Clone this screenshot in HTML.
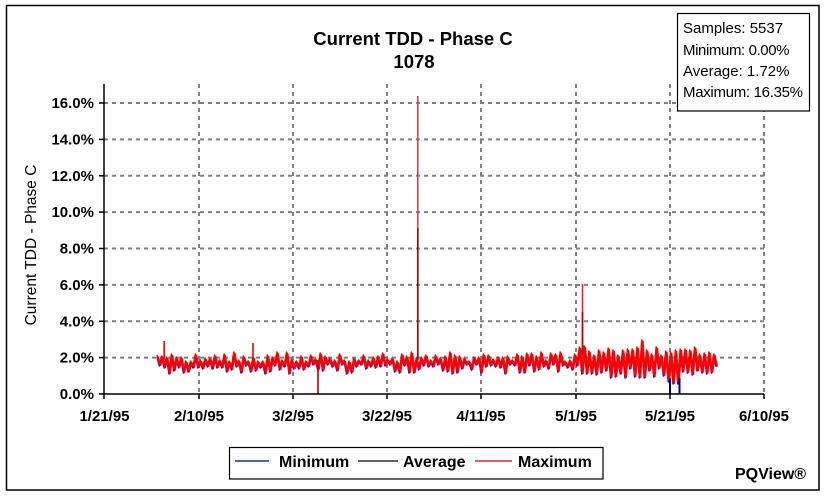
<!DOCTYPE html>
<html>
<head>
<meta charset="utf-8">
<style>
  html, body { margin: 0; padding: 0; background: #ffffff; }
  svg { display: block; }
  text { font-family: "Liberation Sans", Arial, sans-serif; fill: #000; }
</style>
</head>
<body>
<svg width="828" height="499" viewBox="0 0 828 499" xmlns="http://www.w3.org/2000/svg">
  <defs>
    <clipPath id="plotclip">
      <rect x="104" y="80" width="662" height="314"/>
    </clipPath>
    <polyline id="series" fill="none" vector-effect="non-scaling-stroke" stroke-linejoin="round" points="0,355 1,364 2,356 3,366 4,357 5,372 6,354 7,369 8,357 9,366 10,357 11,371 12,361 13,370 14,361 15,366 16,354 17,366 18,360 19,367 20,358 21,365 22,358 23,367 24,355 25,366 26,360 27,366 28,354 29,370 30,361 31,368 32,352 33,365 34,360 35,371 36,356 37,364 38,361 39,370 40,357 41,369 42,361 43,366 44,361 45,372 46,355 47,370 48,357 49,364 50,352 51,368 52,360 53,365 54,352 55,372 56,359 57,367 58,361 59,367 60,356 61,368 62,361 63,365 64,355 65,363 66,359 67,368 68,353 69,369 70,356 71,363 72,358 73,365 74,360 75,369 76,354 77,363 78,360 79,372 80,361 81,371 82,358 83,365 84,360 85,363 86,355 87,367 88,360 89,365 90,357 91,366 92,356 93,365 94,353 95,364 96,359 97,363 98,358 99,370 100,361 101,371 102,354 103,364 104,356 105,371 106,352 107,371 108,358 109,368 110,357 111,364 112,355 113,365 114,360 115,365 116,355 117,363 118,358 119,369 120,356 121,370 122,352 123,372 124,355 125,371 126,356 127,367 128,358 129,363 130,361 131,368 132,357 133,363 134,357 135,371 136,354 137,365 138,355 139,364 140,359 141,365 142,357 143,366 144,357 145,372 146,356 147,363 148,360 149,364 150,354 151,371 152,356 153,371 154,353 155,364 156,353 157,370 158,356 159,368 160,352 161,365 162,360 163,367 164,353 165,363 166,354 167,370 168,352 169,364 170,361 171,366 172,360 173,368 174,354 175,364 176,347 177,372 178,346 179,372 180,351 181,372 182,355 183,373 184,350 185,371 186,352 187,369 188,348 189,376 190,350 191,375 192,355 193,372 194,350 195,376 196,349 197,367 198,349 199,375 200,347 201,376 202,340 203,376 204,350 205,369 206,354 207,375 208,347 209,367 210,355 211,374 212,351 213,380 214,352 215,382 216,350 217,382 218,349 219,370 220,349 221,371 222,350 223,373 224,347 225,369 226,354 227,371 228,353 229,372 230,352 231,371 232,354 233,365"/>
  </defs>

  <!-- outer border -->
  <rect x="6.5" y="5.5" width="812.5" height="484.5" fill="#fff" stroke="#000" stroke-width="1.5"/>

  <!-- title -->
  <text x="413" y="45" text-anchor="middle" font-weight="bold" font-size="18.5">Current TDD - Phase C</text>
  <text x="414" y="68" text-anchor="middle" font-weight="bold" font-size="18.5">1078</text>

  <!-- grid -->
  <g stroke="#808080" stroke-width="2" stroke-dasharray="4,4" fill="none">
    <line x1="104" y1="103" x2="764" y2="103"/>
    <line x1="104" y1="139.4" x2="764" y2="139.4"/>
    <line x1="104" y1="175.8" x2="764" y2="175.8"/>
    <line x1="104" y1="212.1" x2="764" y2="212.1"/>
    <line x1="104" y1="248.5" x2="764" y2="248.5"/>
    <line x1="104" y1="284.9" x2="764" y2="284.9"/>
    <line x1="104" y1="321.3" x2="764" y2="321.3"/>
    <line x1="104" y1="357.6" x2="764" y2="357.6"/>
    <line x1="199" y1="84" x2="199" y2="394"/>
    <line x1="293" y1="84" x2="293" y2="394"/>
    <line x1="387" y1="84" x2="387" y2="394"/>
    <line x1="481" y1="84" x2="481" y2="394"/>
    <line x1="576" y1="84" x2="576" y2="394"/>
    <line x1="670" y1="84" x2="670" y2="394"/>
    <line x1="764" y1="84" x2="764" y2="394"/>
  </g>

  <!-- series -->
  <g clip-path="url(#plotclip)">
    <g transform="translate(157,0) scale(2.4,1)">
      <use href="#series" transform="translate(0,2)" stroke="#1010d0" stroke-width="1.5"/>
      <use href="#series" stroke="#ff0000" stroke-width="1.5"/>
      <use href="#series" transform="translate(0.5,1.5)" stroke="#ff0000" stroke-width="1.4"/>
    </g>
    <!-- spikes -->
    <g stroke-width="1.6" fill="none">
      <line x1="164.2" y1="341" x2="164.2" y2="360" stroke="#ff0000"/>
      <line x1="253" y1="343" x2="253" y2="360" stroke="#ff0000"/>
      <line x1="318" y1="360" x2="318" y2="394" stroke="#c00000"/>
      <line x1="417.8" y1="96" x2="417.8" y2="360" stroke="#e04040"/>
      <line x1="417.8" y1="228" x2="417.8" y2="360" stroke="#b00000"/>
      <line x1="582.5" y1="284" x2="582.5" y2="360" stroke="#ff2020"/>
      <line x1="582.5" y1="312" x2="582.5" y2="355" stroke="#b00000"/>
      <line x1="670" y1="378" x2="670" y2="394" stroke="#000080" stroke-width="2"/>
      <line x1="679.5" y1="378" x2="679.5" y2="394" stroke="#000080" stroke-width="2"/>
    </g>
  </g>

  <!-- axes -->
  <g stroke="#000" stroke-width="1.5" fill="none">
    <line x1="104" y1="84" x2="104" y2="394.5"/>
    <line x1="103.5" y1="394" x2="764" y2="394"/>
    <line x1="99" y1="103" x2="104" y2="103"/>
    <line x1="99" y1="139.4" x2="104" y2="139.4"/>
    <line x1="99" y1="175.8" x2="104" y2="175.8"/>
    <line x1="99" y1="212.1" x2="104" y2="212.1"/>
    <line x1="99" y1="248.5" x2="104" y2="248.5"/>
    <line x1="99" y1="284.9" x2="104" y2="284.9"/>
    <line x1="99" y1="321.3" x2="104" y2="321.3"/>
    <line x1="99" y1="357.6" x2="104" y2="357.6"/>
    <line x1="99" y1="394" x2="104" y2="394"/>
    <line x1="104" y1="394" x2="104" y2="399"/>
    <line x1="199" y1="394" x2="199" y2="399"/>
    <line x1="293" y1="394" x2="293" y2="399"/>
    <line x1="387" y1="394" x2="387" y2="399"/>
    <line x1="481" y1="394" x2="481" y2="399"/>
    <line x1="576" y1="394" x2="576" y2="399"/>
    <line x1="670" y1="394" x2="670" y2="399"/>
    <line x1="764" y1="394" x2="764" y2="399"/>
  </g>

  <!-- y tick labels -->
  <g font-weight="bold" font-size="15" text-anchor="end">
    <text x="94" y="108">16.0%</text>
    <text x="94" y="144.4">14.0%</text>
    <text x="94" y="180.8">12.0%</text>
    <text x="94" y="217.1">10.0%</text>
    <text x="94" y="253.5">8.0%</text>
    <text x="94" y="289.9">6.0%</text>
    <text x="94" y="326.3">4.0%</text>
    <text x="94" y="362.6">2.0%</text>
    <text x="94" y="399">0.0%</text>
  </g>

  <!-- x tick labels -->
  <g font-weight="bold" font-size="15" text-anchor="middle">
    <text x="104.5" y="421">1/21/95</text>
    <text x="199" y="421">2/10/95</text>
    <text x="293" y="421">3/2/95</text>
    <text x="387" y="421">3/22/95</text>
    <text x="481" y="421">4/11/95</text>
    <text x="576" y="421">5/1/95</text>
    <text x="670" y="421">5/21/95</text>
    <text x="764" y="421">6/10/95</text>
  </g>

  <!-- y axis title -->
  <text x="36" y="245" text-anchor="middle" font-size="15.5" transform="rotate(-90 36 245)">Current TDD - Phase C</text>

  <!-- stats box -->
  <rect x="677.5" y="13.5" width="132" height="97.5" fill="#fff" stroke="#000" stroke-width="1.2"/>
  <g font-size="15">
    <text x="683" y="33">Samples: 5537</text>
    <text x="683" y="55" letter-spacing="-0.4">Minimum: 0.00%</text>
    <text x="683" y="76">Average: 1.72%</text>
    <text x="683" y="97" letter-spacing="-0.3">Maximum: 16.35%</text>
  </g>

  <!-- legend -->
  <rect x="229.5" y="447.5" width="373.5" height="31.5" fill="#fff" stroke="#000" stroke-width="1.2"/>
  <line x1="235" y1="461" x2="269" y2="461" stroke="#000080" stroke-width="1.2"/>
  <line x1="358" y1="461" x2="398" y2="461" stroke="#000" stroke-width="1.2"/>
  <line x1="475" y1="461" x2="512" y2="461" stroke="#cc0000" stroke-width="1.2"/>
  <g font-weight="bold" font-size="16">
    <text x="279" y="467">Minimum</text>
    <text x="403" y="467">Average</text>
    <text x="518" y="467">Maximum</text>
  </g>

  <!-- PQView -->
  <text x="735" y="479" font-weight="bold" font-size="16">PQView®</text>
</svg>
</body>
</html>
